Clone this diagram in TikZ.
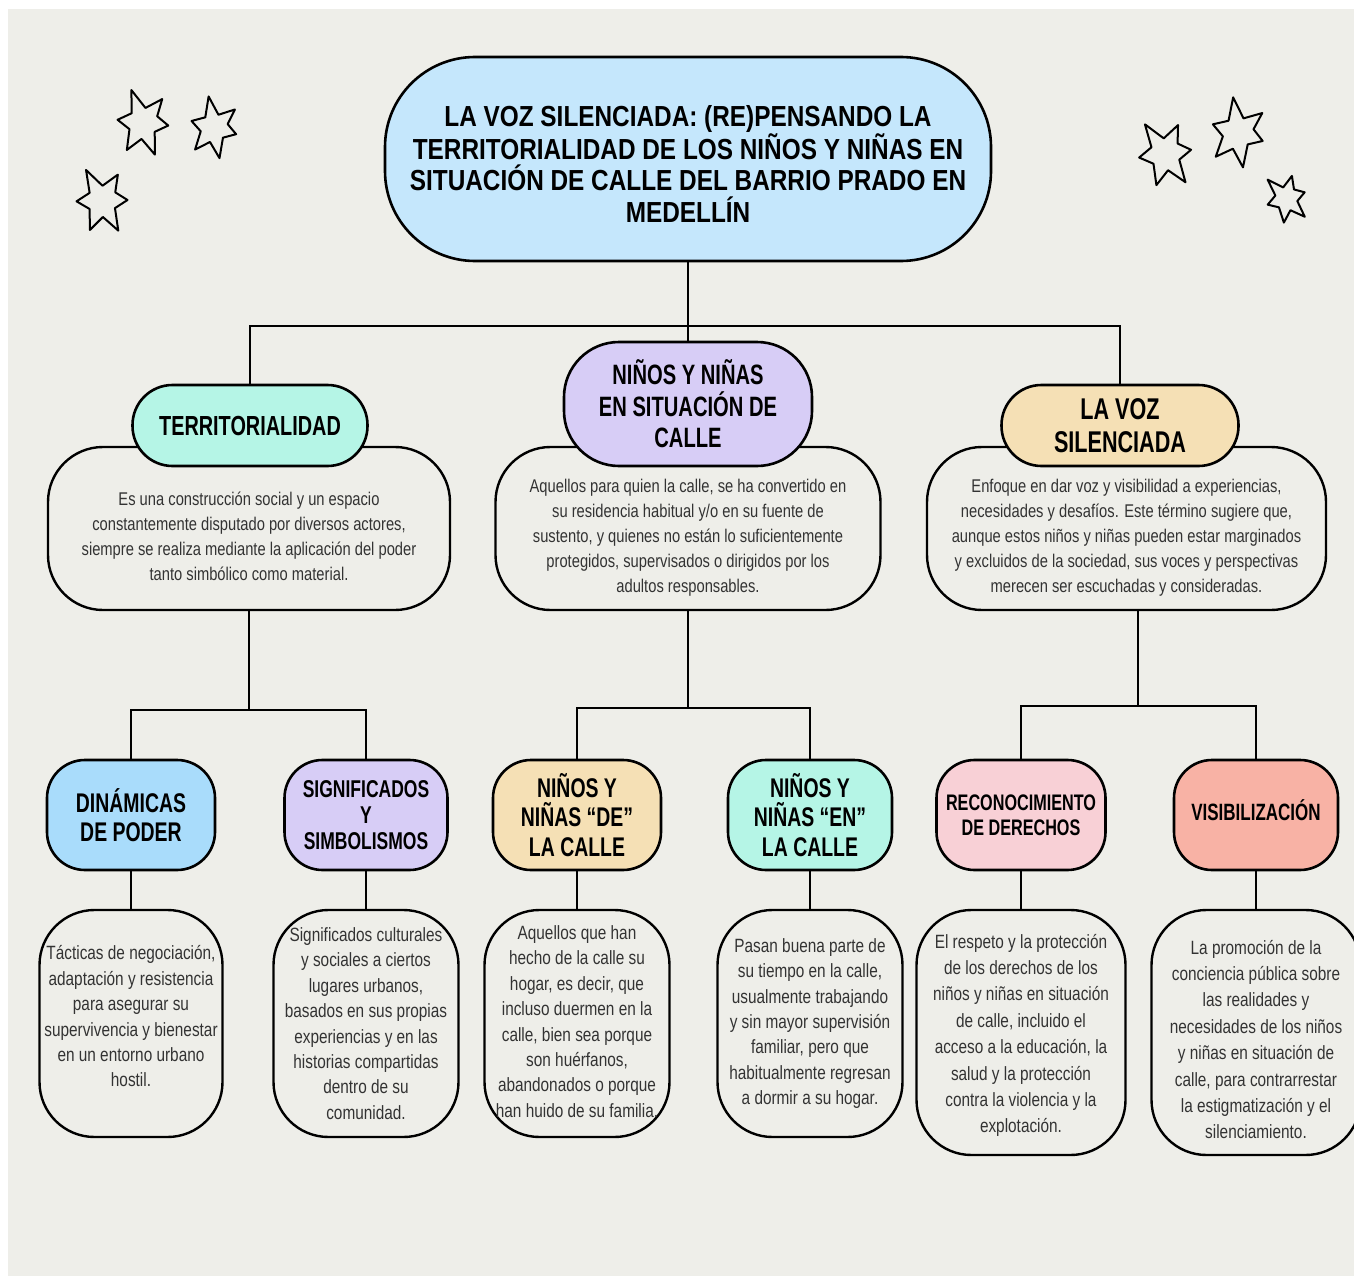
\documentclass[tikz,border=0pt]{standalone}
\usepackage{fontspec}
\setmainfont{Liberation Sans}
\newfontfamily\bodyfont{Liberation Sans}[FakeStretch=0.8]
\newfontfamily\headfont{Liberation Sans}[FakeStretch=0.72]
\newfontfamily\titlefont{Liberation Sans}[FakeStretch=0.84]
\definecolor{bgc}{HTML}{EEEEE9}
\definecolor{txt}{HTML}{333333}
\definecolor{ctitle}{HTML}{C5E7FC}
\definecolor{cmint}{HTML}{B5F5E6}
\definecolor{clav}{HTML}{D7CDF6}
\definecolor{cwheat}{HTML}{F5E0B5}
\definecolor{cblue}{HTML}{A9DCFB}
\definecolor{cpink}{HTML}{F8D0D6}
\definecolor{csalmon}{HTML}{F8B2A5}
\newcommand{\sketchstar}[3]{%
  \draw[starline, shift={(#1)}, rotate=#3, scale=#2]
    (250:1) -- (280:0.42) -- (310:0.88) -- (338:0.45) -- (8:0.75) -- (40:0.45)
    -- (70:1.02) -- (95:0.5) -- (120:0.95) -- (152:0.45) -- (185:0.75) -- (218:0.42) -- cycle;}
\begin{document}
\begin{tikzpicture}[x=1pt,y=-1pt,
  starline/.style={draw=black, line width=2pt, line join=round},
  headbox/.style={draw=black, line width=2.6pt, text=black, align=center, inner sep=0pt},
  descbox/.style={draw=black, line width=2.4pt, fill=bgc, inner sep=0pt},
  desctext/.style={align=center, text=txt, inner sep=0pt, font=\bodyfont\fontsize{18.4}{25}\selectfont},
  smalltext/.style={align=center, text=txt, inner sep=0pt, font=\bodyfont\fontsize{19.2}{25.4}\selectfont},
  conn/.style={draw=black, line width=2.4pt}]
\useasboundingbox (0,0) rectangle (1354,1276);
\fill[white] (0,0) rectangle (1354,1276);
\fill[bgc] (8,9) rectangle (1354,1276);

% stars
\sketchstar{143,122}{34}{0}
\sketchstar{214,127}{31}{-10}
\sketchstar{102,200}{34}{8}
\sketchstar{1165,153}{35}{15}
\sketchstar{1238,132}{35}{-12}
\sketchstar{1286,198}{26}{25}

% title
\node[headbox, fill=ctitle, rounded corners=90pt, minimum width=606pt, minimum height=204pt] (title) at (688,159) {};
\node[align=center, inner sep=0pt, font=\titlefont\bfseries\fontsize{29}{31.7}\selectfont] (titleT) at (688,164)
  {LA VOZ SILENCIADA: (RE)PENSANDO LA\\TERRITORIALIDAD DE LOS NIÑOS Y NIÑAS EN\\SITUACIÓN DE CALLE DEL BARRIO PRADO EN\\MEDELLÍN};

% level 2 descriptions
\node[descbox, rounded corners=55pt, minimum width=402pt, minimum height=163pt] (terrD) at (249,528.5) {};
\node[desctext] (terrT) at (249,536)
  {Es una construcción social y un espacio\\constantemente disputado por diversos actores,\\siempre se realiza mediante la aplicación del poder\\tanto simbólico como material.};
\node[descbox, rounded corners=55pt, minimum width=385pt, minimum height=163pt] (ninosD) at (688,528.5) {};
\node[desctext] (ninosT) at (688,538)
  {Aquellos para quien la calle, se ha convertido en\\su residencia habitual y/o en su fuente de\\sustento, y quienes no están lo suficientemente\\protegidos, supervisados o dirigidos por los\\adultos responsables.};
\node[descbox, rounded corners=55pt, minimum width=399pt, minimum height=163pt] (vozD) at (1126.5,528.5) {};
\node[desctext] (vozT) at (1126.5,538)
  {Enfoque en dar voz y visibilidad a experiencias,\\necesidades y desafíos. Este término sugiere que,\\aunque estos niños y niñas pueden estar marginados\\y excluidos de la sociedad, sus voces y perspectivas\\merecen ser escuchadas y consideradas.};

% level 2 headers
\node[headbox, fill=cmint, rounded corners=40pt, minimum width=235pt, minimum height=81pt,
  font=\headfont\bfseries\fontsize{27.6}{31}\selectfont] (terrH) at (250,425.5) {TERRITORIALIDAD};
\node[headbox, fill=clav, rounded corners=55pt, minimum width=248pt, minimum height=124pt,
  font=\headfont\bfseries\fontsize{28}{31.5}\selectfont] (ninosH) at (688,404) {NIÑOS Y NIÑAS\\EN SITUACIÓN DE\\CALLE};
\node[headbox, fill=cwheat, rounded corners=40pt, minimum width=237pt, minimum height=81pt,
  font=\headfont\bfseries\fontsize{30}{33}\selectfont] (vozH) at (1120,425.5) {LA VOZ\\SILENCIADA};

% level 3 headers
\node[headbox, fill=cblue, rounded corners=38pt, minimum width=168pt, minimum height=110pt,
  font=\headfont\bfseries\fontsize{27}{28.5}\selectfont] (dinH) at (131,815) {DINÁMICAS\\DE PODER};
\node[headbox, fill=clav, rounded corners=38pt, minimum width=163pt, minimum height=110pt,
  font=\headfont\bfseries\fontsize{24.3}{26}\selectfont] (sigH) at (366,815) {SIGNIFICADOS\\Y\\SIMBOLISMOS};
\node[headbox, fill=cwheat, rounded corners=38pt, minimum width=168pt, minimum height=110pt,
  font=\headfont\bfseries\fontsize{27}{29.5}\selectfont] (deH) at (577,815) {NIÑOS Y\\NIÑAS “DE”\\LA CALLE};
\node[headbox, fill=cmint, rounded corners=38pt, minimum width=164pt, minimum height=110pt,
  font=\headfont\bfseries\fontsize{27}{29.5}\selectfont] (enH) at (810,815) {NIÑOS Y\\NIÑAS “EN”\\LA CALLE};
\node[headbox, fill=cpink, rounded corners=38pt, minimum width=169pt, minimum height=110pt,
  font=\headfont\bfseries\fontsize{22.5}{25}\selectfont] (recH) at (1021,815) {RECONOCIMIENTO\\DE DERECHOS};
\node[headbox, fill=csalmon, rounded corners=38pt, minimum width=164pt, minimum height=110pt,
  font=\headfont\bfseries\fontsize{23.6}{26}\selectfont, text depth=10pt] (visH) at (1256,815) {VISIBILIZACIÓN};

% level 3 descriptions
\node[descbox, rounded corners=55pt, minimum width=183pt, minimum height=227pt] (dinD) at (131,1023.5) {};
\node[smalltext] (dinT) at (131,1016.5)
  {Tácticas de negociación,\\adaptación y resistencia\\para asegurar su\\supervivencia y bienestar\\en un entorno urbano\\hostil.};
\node[descbox, rounded corners=55pt, minimum width=185pt, minimum height=227pt] (sigD) at (366,1023.5) {};
\node[smalltext] (sigT) at (366,1023.5)
  {Significados culturales\\y sociales a ciertos\\lugares urbanos,\\basados en sus propias\\experiencias y en las\\historias compartidas\\dentro de su\\comunidad.};
\node[descbox, rounded corners=55pt, minimum width=185pt, minimum height=227pt] (deD) at (577,1023.5) {};
\node[smalltext] (deT) at (577,1021.5)
  {Aquellos que han\\hecho de la calle su\\hogar, es decir, que\\incluso duermen en la\\calle, bien sea porque\\son huérfanos,\\abandonados o porque\\han huido de su familia.};
\node[descbox, rounded corners=55pt, minimum width=185pt, minimum height=227pt] (enD) at (810,1023.5) {};
\node[smalltext] (enT) at (810,1023.5)
  {Pasan buena parte de\\su tiempo en la calle,\\usualmente trabajando\\y sin mayor supervisión\\familiar, pero que\\habitualmente regresan\\a dormir a su hogar.};
\node[descbox, rounded corners=55pt, minimum width=209pt, minimum height=245pt] (recD) at (1021,1032.5) {};
\node[smalltext, font=\bodyfont\fontsize{19.2}{26.4}\selectfont] (recT) at (1021,1035.5)
  {El respeto y la protección\\de los derechos de los\\niños y niñas en situación\\de calle, incluido el\\acceso a la educación, la\\salud y la protección\\contra la violencia y la\\explotación.};
\node[descbox, rounded corners=55pt, minimum width=209pt, minimum height=245pt] (visD) at (1256,1032.5) {};
\node[smalltext, font=\bodyfont\fontsize{19.2}{26.4}\selectfont] (visT) at (1256,1039.5)
  {La promoción de la\\conciencia pública sobre\\las realidades y\\necesidades de los niños\\y niñas en situación de\\calle, para contrarrestar\\la estigmatización y el\\silenciamiento.};

% connectors
\coordinate (bar1) at (688,326);
\draw[conn] (title.south) -- (ninosH.north);
\draw[conn] (terrH.north) |- (bar1) -| (vozH.north);

\coordinate (j1) at (249,710);
\draw[conn] (terrD.south) -- (j1);
\draw[conn] (dinH.north) |- (j1) -| (sigH.north);

\coordinate (j2) at (688,708);
\draw[conn] (ninosD.south) -- (j2);
\draw[conn] (deH.north) |- (j2) -| (enH.north);

\coordinate (j3) at (1138,706);
\draw[conn] (vozD.south -| j3) -- (j3);
\draw[conn] (recH.north) |- (j3) -| (visH.north);

\draw[conn] (dinH) -- (dinD);
\draw[conn] (sigH) -- (sigD);
\draw[conn] (deH) -- (deD);
\draw[conn] (enH) -- (enD);
\draw[conn] (recH) -- (recD);
\draw[conn] (visH) -- (visD);
\end{tikzpicture}
\end{document}
